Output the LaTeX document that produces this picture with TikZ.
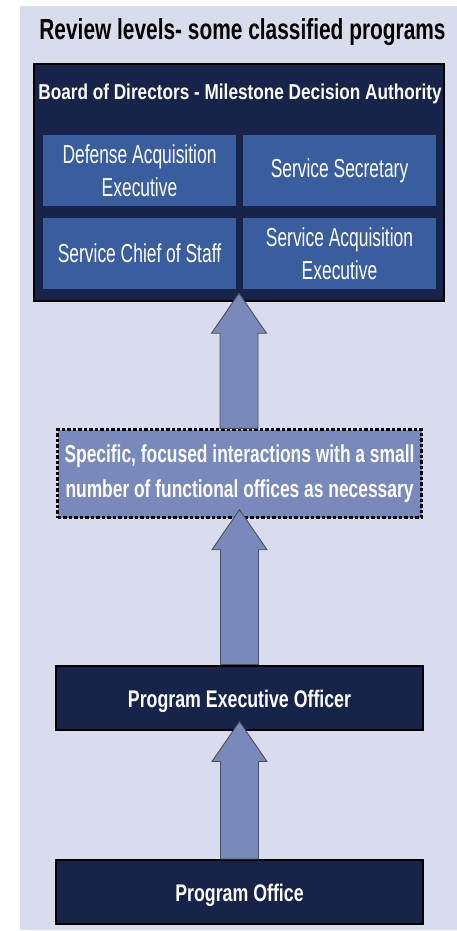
\documentclass[tikz,border=0pt]{standalone}
\usepackage{fontspec}
\setmainfont{Liberation Sans}
\newfontfamily\fTitle[FakeStretch=0.72]{Liberation Sans}
\newfontfamily\fHead[FakeStretch=0.80]{Liberation Sans}
\newfontfamily\fInner[FakeStretch=0.67]{Liberation Sans}
\newfontfamily\fDash[FakeStretch=0.71]{Liberation Sans}
\newfontfamily\fLevel[FakeStretch=0.74]{Liberation Sans}
\usetikzlibrary{calc}
\definecolor{panel}{HTML}{D9DCEC}
\definecolor{navy}{HTML}{18234A}
\definecolor{midblue}{HTML}{3A5E9D}
\definecolor{lav}{HTML}{7A89BB}
\definecolor{arrowedge}{HTML}{4A4F5C}
\newcommand\upArrow[2]{%
  \path[arrowbody] let \p1=(#1.north), \p2=(#2.south) in
    (\x2-19pt,\y1) -- (\x2-19pt,\y2+9pt-40pt) -- (\x2-27.5pt,\y2+9pt-40pt)
    -- (\x2,\y2+9pt) -- (\x2+27.5pt,\y2+9pt-40pt) -- (\x2+19pt,\y2+9pt-40pt)
    -- (\x2+19pt,\y1) -- cycle;}
\begin{document}
\begin{tikzpicture}[x=1pt,y=-1pt,
  navybox/.style={draw=black,line width=2.5pt,fill=navy,inner sep=0pt},
  levelbox/.style={navybox,line width=2pt,minimum width=367pt,minimum height=64pt,
    text=white,font=\fLevel\bfseries\fontsize{24}{28}\selectfont,text height=19pt,text depth=0pt},
  innerbox/.style={fill=midblue,inner sep=0pt,minimum width=193pt,minimum height=71pt,
    text=white,align=center,font=\fInner\fontsize{26}{33}\selectfont},
  dashbox/.style={fill=lav,draw=black,line width=2.4pt,dash pattern=on 3.5pt off 2pt,
    minimum width=364pt,minimum height=88pt,inner sep=0pt,text=white,align=center,
    font=\fDash\bfseries\fontsize{24.5}{35}\selectfont},
  arrowbody/.style={fill=lav,draw=arrowedge,line width=0.9pt,line join=miter},
  titletext/.style={anchor=base,font=\fTitle\bfseries\fontsize{29}{33}\selectfont,text=black,inner sep=0pt},
  headtext/.style={anchor=base,font=\fHead\bfseries\fontsize{21.5}{26}\selectfont,text=white,inner sep=0pt}
]
\useasboundingbox (0,0) rectangle (457,931);
\fill[white] (0,0) rectangle (457,931);
\fill[panel] (20,6) rectangle (457,930);

\node[titletext] (title) at (242.5,39.5) {Review levels- some classified programs};

\node[navybox,minimum width=410pt,minimum height=237pt] (board) at (239,182.5) {};
\node[headtext] (head) at (240,100) {Board of Directors - Milestone Decision Authority};
\node[innerbox] (dae) at (139.5,170.5) {Defense Acquisition\\Executive};
\node[innerbox] (ss) at (339.5,170.5) {Service Secretary};
\node[innerbox] (scs) at (139.5,253.5) {Service Chief of Staff};
\node[innerbox] (sae) at (339.5,253.5) {Service Acquisition\\Executive};

\node[dashbox] (focus) at (239.5,473.5) {Specific, focused interactions with a small\\number of functional offices as necessary};

\node[levelbox] (peo) at (239.5,697.5) {Program Executive Officer};
\node[levelbox] (po) at (239.5,892) {Program Office};

\upArrow{focus}{board}
\upArrow{peo}{focus}
\upArrow{po}{peo}
\end{tikzpicture}
\end{document}
